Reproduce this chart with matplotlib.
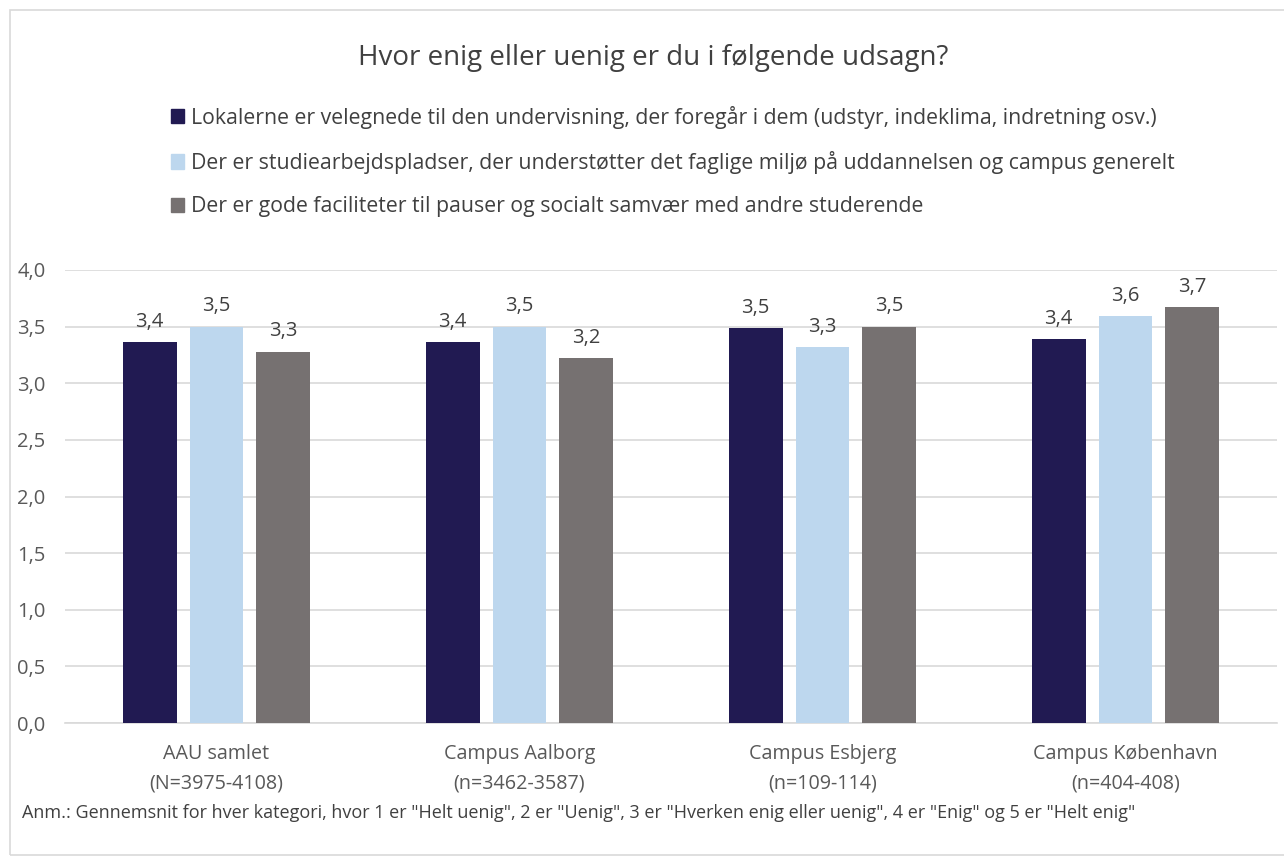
import matplotlib
matplotlib.use("Agg")
import matplotlib.pyplot as plt
import numpy as np
from matplotlib.patches import Patch, Rectangle

plt.rcParams["font.family"] = ["Open Sans", "DejaVu Sans"]

categories = ["AAU samlet\n(N=3975-4108)", "Campus Aalborg\n(n=3462-3587)",
              "Campus Esbjerg\n(n=109-114)", "Campus København\n(n=404-408)"]
series_names = [
    "Lokalerne er velegnede til den undervisning, der foregår i dem (udstyr, indeklima, indretning osv.)",
    "Der er studiearbejdspladser, der understøtter det faglige miljø på uddannelsen og campus generelt",
    "Der er gode faciliteter til pauser og socialt samvær med andre studerende",
]
lokaler = [3.36, 3.36, 3.49, 3.39]
studiepladser = [3.50, 3.50, 3.32, 3.59]
faciliteter = [3.28, 3.22, 3.50, 3.67]
values = [lokaler, studiepladser, faciliteter]
colors = ["#211a52", "#bdd7ee", "#767171"]
yticks = [0.0, 0.5, 1.0, 1.5, 2.0, 2.5, 3.0, 3.5, 4.0]

W, H = 1284, 866
fig = plt.figure(figsize=(W / 100, H / 100), dpi=100, facecolor="white")
ax = fig.add_axes([65 / W, 1 - 723 / H, (1277 - 65) / W, (723 - 270) / H])

x = np.arange(len(categories))
width = 0.178
step = 0.221
for i, (vals, col) in enumerate(zip(values, colors)):
    pos = x + (i - 1) * step
    bars = ax.bar(pos, vals, width=width, color=col, zorder=3)
    for b, v in zip(bars, vals):
        ax.text(b.get_x() + b.get_width() / 2, v + 0.09, f"{v:.1f}".replace(".", ","),
                ha="center", va="bottom", fontsize=14.5, color="#404040")

ax.set_xlim(-0.5, 3.5)
ax.set_ylim(0, 4.0)
ax.set_yticks(yticks)
ax.set_yticklabels([f"{t:.1f}".replace(".", ",") for t in yticks])
ax.set_xticks(x)
ax.set_xticklabels(categories, linespacing=1.65)
ax.tick_params(axis="both", length=0, colors="#595959")
ax.tick_params(axis="y", pad=14, labelsize=14.5)
ax.tick_params(axis="x", pad=15, labelsize=14.2)
ax.grid(axis="y", color="#d9d9d9", linewidth=1.2, zorder=0)
for s in ["top", "right", "left"]:
    ax.spines[s].set_visible(False)
ax.spines["bottom"].set_color("#d9d9d9")
ax.spines["bottom"].set_linewidth(1.2)

fig.text(653 / W, 1 - 58 / H, "Hvor enig eller uenig er du i følgende udsagn?",
         ha="center", va="center", fontsize=20, color="#404040")

handles = [Patch(facecolor=c, edgecolor=c) for c in colors]
leg = fig.legend(handles, series_names, loc="upper left",
                 bbox_to_anchor=(160 / W, 1 - 95 / H), frameon=False,
                 fontsize=15.3, handlelength=0.65, handleheight=0.65,
                 handletextpad=0.3, labelspacing=1.05, borderpad=0)
for t in leg.get_texts():
    t.set_color("#404040")

fig.text(22 / W, 1 - 813 / H,
         'Anm.: Gennemsnit for hver kategori, hvor 1 er "Helt uenig", 2 er "Uenig", '
         '3 er "Hverken enig eller uenig", 4 er "Enig" og 5 er "Helt enig"',
         ha="left", va="center", fontsize=13, color="#404040")

fig.patches.append(Rectangle((10 / W, 1 - 855 / H), 1.2, (855 - 10) / H,
                             transform=fig.transFigure, fill=False,
                             edgecolor="#d9d9d9", linewidth=1.2))

fig.savefig("out.png", dpi=100, facecolor="white")
